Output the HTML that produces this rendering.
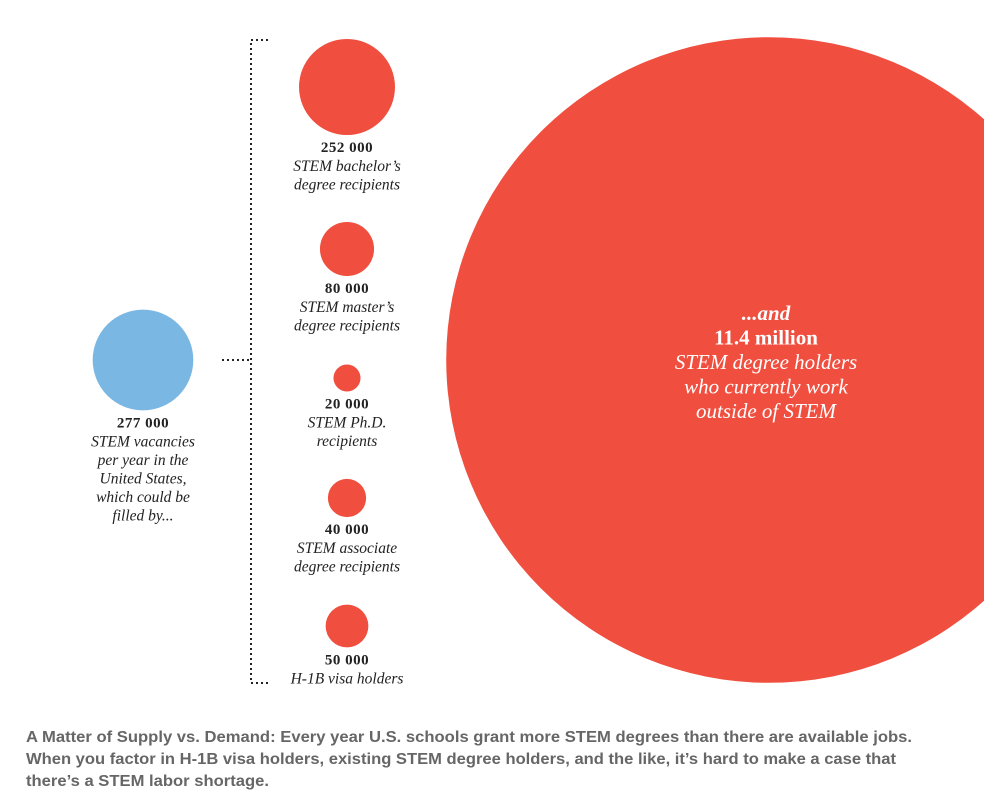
<!DOCTYPE html>
<html><head><meta charset="utf-8"><style>
body{margin:0;background:#fff;width:984px;height:795px;overflow:hidden}
svg{display:block}
.num{font-family:"Liberation Serif",serif;font-weight:bold;font-size:15px;fill:#222;letter-spacing:0.5px}
.lab{font-family:"Liberation Serif",serif;font-style:italic;font-size:15.5px;fill:#222}
.big{font-family:"Liberation Serif",serif;font-style:italic;font-size:21px;fill:#fff}
.cap{font-family:"Liberation Sans",sans-serif;font-weight:bold;font-size:16px;fill:#666}
</style></head><body>
<svg id="chart" width="984" height="795" viewBox="0 0 984 795">
<g id="bubbles"></g>
<path d="M268,40 H251 V683 H268 M222,360 H251" fill="none" stroke="#222" stroke-width="2" stroke-dasharray="2,3"/>
<text class="cap"><tspan x="26" y="742" textLength="886" lengthAdjust="spacingAndGlyphs">A Matter of Supply vs. Demand: Every year U.S. schools grant more STEM degrees than there are available jobs.</tspan><tspan x="26" y="764" textLength="870" lengthAdjust="spacingAndGlyphs">When you factor in H-1B visa holders, existing STEM degree holders, and the like, it’s hard to make a case that</tspan><tspan x="26" y="786" textLength="243" lengthAdjust="spacingAndGlyphs">there’s a STEM labor shortage.</tspan></text>
</svg>
<script>
const categories=["vacancies","bachelors","masters","phd","associate","h1b","outside"];
const values=[277000,252000,80000,20000,40000,50000,11400000];
const numberLabels=["277 000","252 000","80 000","20 000","40 000","50 000","11.4 million"];
const descLines=[["STEM vacancies","per year in the","United States,","which could be","filled by..."],["STEM bachelor’s","degree recipients"],["STEM master’s","degree recipients"],["STEM Ph.D.","recipients"],["STEM associate","degree recipients"],["H-1B visa holders"],["STEM degree holders","who currently work","outside of STEM"]];
const k=0.0956;
const rScale=v=>k*Math.sqrt(v);
const centers=[[143,360],[347,87],[347,249],[347,378],[347,498],[347,626],[769,360]];
const ns="http://www.w3.org/2000/svg";
const g=document.getElementById('bubbles');
categories.forEach((c,i)=>{
  const r=rScale(values[i]);const [cx,cy]=centers[i];
  const ci=document.createElementNS(ns,'circle');
  ci.setAttribute('cx',cx);ci.setAttribute('cy',cy);ci.setAttribute('r',r);
  ci.setAttribute('fill',i===0?'#7bb7e3':'#f04e3e');
  
  
  g.appendChild(ci);
  if(i===6){
    const t=document.createElementNS(ns,'text');t.setAttribute('class','big');t.setAttribute('text-anchor','middle');
    
    
    const lines=["...and",numberLabels[i]].concat(descLines[i]);
    lines.forEach((l,j)=>{const s=document.createElementNS(ns,'tspan');s.setAttribute('x',cx-3);s.setAttribute('y',320+j*24.5);s.textContent=l;if(j===0){s.setAttribute('font-weight','bold');}if(j===1){s.setAttribute('font-style','normal');s.setAttribute('font-weight','bold');}t.appendChild(s);});
    g.appendChild(t);return;
  }
  const y0=cy+r+17;
  const t=document.createElementNS(ns,'text');t.setAttribute('class','num');t.setAttribute('text-anchor','middle');
  t.setAttribute('x',cx);t.setAttribute('y',y0);t.textContent=numberLabels[i];
  
  
  g.appendChild(t);
  const d=document.createElementNS(ns,'text');d.setAttribute('class','lab');d.setAttribute('text-anchor','middle');
  
  
  descLines[i].forEach((l,j)=>{const s=document.createElementNS(ns,'tspan');s.setAttribute('x',cx);s.setAttribute('y',y0+19+j*18.5);s.textContent=l;d.appendChild(s);});
  g.appendChild(d);
});
</script>
</body></html>
